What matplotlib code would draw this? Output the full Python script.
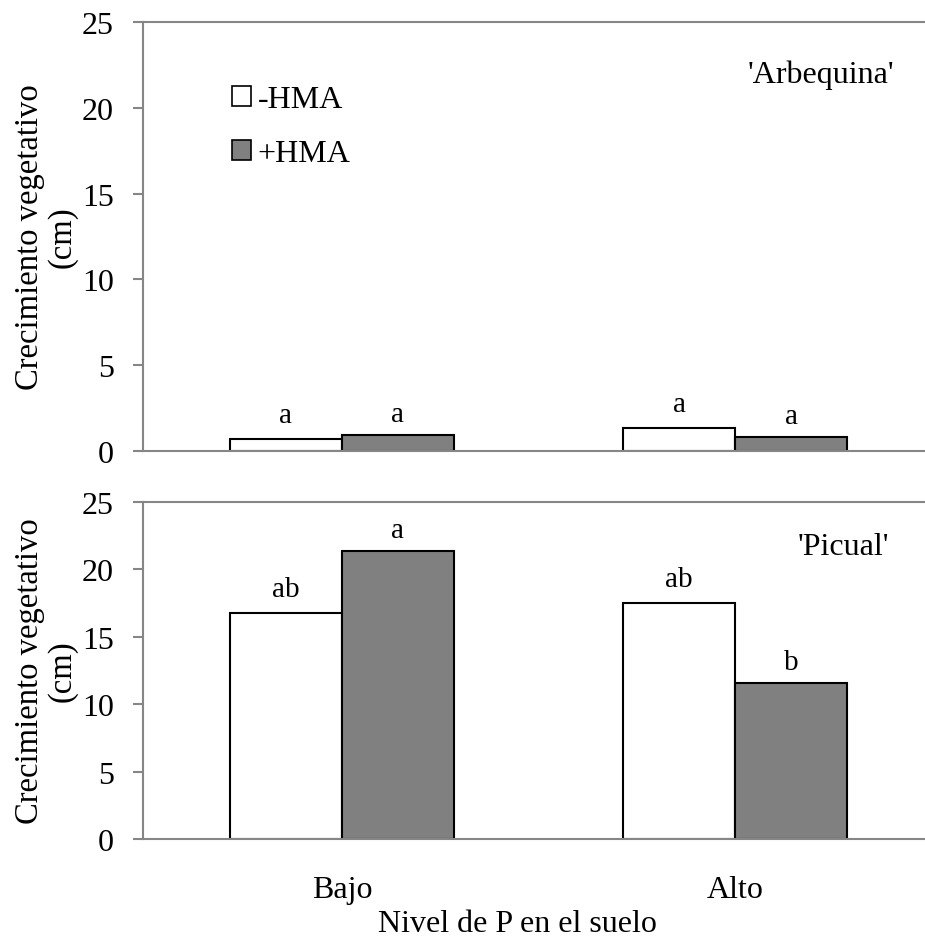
import matplotlib.pyplot as plt
from matplotlib.patches import Patch

plt.rcParams['font.family'] = ['Liberation Serif', 'DejaVu Serif']

niveles = ["Bajo", "Alto"]
series = ["-HMA", "+HMA"]

arbequina_sin = [0.70, 1.36]
arbequina_con = [0.95, 0.83]
arbequina_letras_sin = ["a", "a"]
arbequina_letras_con = ["a", "a"]

picual_sin = [16.8, 17.5]
picual_con = [21.35, 11.55]
picual_letras_sin = ["ab", "ab"]
picual_letras_con = ["a", "b"]

yticks = [0, 5, 10, 15, 20, 25]

W, H = 925, 945
fig = plt.figure(figsize=(W / 100, H / 100), dpi=100)


def px_axes(left, top, right, bottom):
    return fig.add_axes([left / W, 1 - bottom / H, (right - left) / W, (bottom - top) / H])


ax1 = px_axes(143, 23, 925, 452)
ax2 = px_axes(143, 503, 925, 840)

gris = "#868686"
x = [0, 1]
w = 0.285


def panel(ax, sin, con, let_sin, let_con, nombre, nx, ny):
    ax.bar([i - w / 2 for i in x], sin, w, color="white", edgecolor="black", linewidth=1.5)
    ax.bar([i + w / 2 for i in x], con, w, color="#808080", edgecolor="black", linewidth=1.5)
    for i in x:
        ax.annotate(let_sin[i], (i - w / 2, sin[i]), xytext=(0, 12), textcoords="offset points",
                    ha="center", va="baseline", fontsize=21)
        ax.annotate(let_con[i], (i + w / 2, con[i]), xytext=(0, 10), textcoords="offset points",
                    ha="center", va="baseline", fontsize=21)
    ax.set_xlim(-0.506, 1.483)
    ax.set_ylim(0, 25)
    ax.set_yticks(yticks)
    ax.tick_params(axis="y", direction="out", length=7, width=1.5, color=gris, pad=14, labelsize=23)
    ax.tick_params(axis="x", length=0)
    for s in ["left", "bottom", "top"]:
        ax.spines[s].set_color(gris)
        ax.spines[s].set_linewidth(1.5)
    ax.spines["right"].set_visible(False)
    ax.text(nx, ny, nombre, transform=None, fontsize=23, ha="center", va="baseline")


panel(ax1, arbequina_sin, arbequina_con, arbequina_letras_sin, arbequina_letras_con,
      "'Arbequina'", 821, H - 83)
panel(ax2, picual_sin, picual_con, picual_letras_sin, picual_letras_con,
      "'Picual'", 843, H - 555)

ax1.set_xticks([])
ax2.set_xticks(x)
ax2.set_xticklabels(niveles, fontsize=23)
ax2.tick_params(axis="x", pad=26)

handles = [Patch(facecolor="white", edgecolor="black", linewidth=1.2),
           Patch(facecolor="#808080", edgecolor="black", linewidth=1.2)]
ax1.legend(handles, series, loc="upper left", bbox_to_anchor=(0.114, 0.852), frameon=False,
           fontsize=23, handlelength=0.6, handleheight=0.6, handletextpad=0.2,
           labelspacing=0.78, borderpad=0, borderaxespad=0)

for top, bottom in [(23, 452), (503, 840)]:
    fig.text(46 / W, 1 - (top + bottom) / 2 / H, "Crecimiento vegetativo\n(cm)", rotation=90,
             ha="center", va="center", multialignment="center", fontsize=23.5, linespacing=1.1)

fig.text(517 / W, 1 - 932 / H, "Nivel de P en el suelo", ha="center", va="baseline", fontsize=23)

fig.savefig("out.png", dpi=100)
